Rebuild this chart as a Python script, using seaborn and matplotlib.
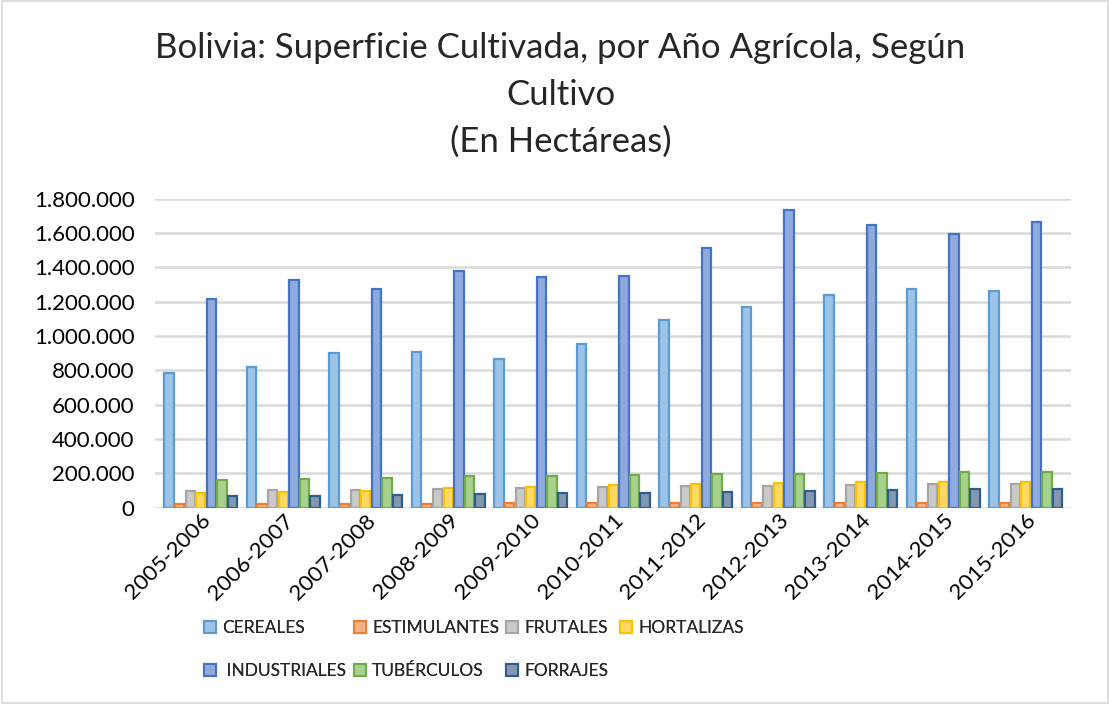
import matplotlib
matplotlib.use("Agg")
import matplotlib.pyplot as plt
import matplotlib.ticker as mticker
from matplotlib.patches import Rectangle, Patch
import seaborn as sns
import pandas as pd

periodos = ["2005-2006", "2006-2007", "2007-2008", "2008-2009", "2009-2010", "2010-2011",
            "2011-2012", "2012-2013", "2013-2014", "2014-2015", "2015-2016"]
cultivos = ["CEREALES", "ESTIMULANTES", "FRUTALES", "HORTALIZAS", "INDUSTRIALES", "TUBÉRCULOS", "FORRAJES"]

cereales = [785000, 820000, 900000, 905000, 865000, 950000, 1092000, 1168000, 1237000, 1272000, 1260000]
estimulantes = [22000, 22000, 23000, 23000, 24000, 24000, 25000, 25000, 26000, 26000, 27000]
frutales = [98000, 102000, 104000, 110000, 115000, 121000, 125000, 128000, 132000, 135000, 139000]
hortalizas = [85000, 92000, 98000, 115000, 122000, 133000, 137000, 142000, 148000, 150000, 150000]
industriales = [1216000, 1324000, 1272000, 1376000, 1341000, 1347000, 1509000, 1734000, 1647000, 1595000, 1665000]
tuberculos = [162000, 168000, 175000, 182000, 186000, 190000, 194000, 198000, 202000, 205000, 208000]
forrajes = [68000, 70000, 74000, 82000, 85000, 87000, 90000, 94000, 100000, 107000, 110000]

series = [cereales, estimulantes, frutales, hortalizas, industriales, tuberculos, forrajes]

fills = ["#9DC3E6", "#F4B183", "#C9C9C9", "#FFD966", "#8FAADC", "#A9D18E", "#8497B0"]
edges = ["#5B9BD5", "#ED7D31", "#A5A5A5", "#FFC000", "#4472C4", "#70AD47", "#2E5E8C"]

rows = []
for c, vals in zip(cultivos, series):
    for p, v in zip(periodos, vals):
        rows.append({"periodo": p, "cultivo": c, "valor": v})
df = pd.DataFrame(rows)

sns.set_theme(style="white")
plt.rcParams["font.family"] = ["Lato", "DejaVu Sans"]

fig = plt.figure(figsize=(11.10, 7.04), dpi=100)
ax = fig.add_axes([0.140, 0.279, 0.825, 0.439])

sns.barplot(data=df, x="periodo", y="valor", hue="cultivo", palette=fills,
            hue_order=cultivos, order=periodos, ax=ax, gap=0.12, width=0.9,
            linewidth=1.6, saturation=1, legend=False)

for cont, ec in zip(ax.containers, edges):
    for bar in cont:
        bar.set_edgecolor(ec)

ax.set_ylim(0, 1800000)
ax.set_yticks(range(0, 1800001, 200000))
ax.yaxis.set_major_formatter(mticker.FuncFormatter(lambda v, p: f"{int(v):,}".replace(",", ".")))
ax.grid(axis="y", color="#D9D9D9", linewidth=1.8)
ax.set_axisbelow(True)
for s in ax.spines.values():
    s.set_visible(False)
ax.set_xlabel("")
ax.set_ylabel("")
ax.tick_params(axis="y", labelsize=16, colors="#000000", pad=15, length=0)
ax.tick_params(axis="x", labelsize=16, colors="#000000", length=0, pad=2)
plt.setp(ax.get_xticklabels(), rotation=45, ha="right", rotation_mode="anchor")
ax.set_xlim(-0.55, 10.55)

handles = [Patch(facecolor=f, edgecolor=e, linewidth=1.5) for f, e in zip(fills, edges)]
columns = [[0, 4], [1, 5], [2, 6], [3]]
col_x = [204, 354, 506, 620]
for idx, x in zip(columns, col_x):
    labs = [cultivos[i] if cultivos[i] != "INDUSTRIALES" else " INDUSTRIALES" for i in idx]
    leg = fig.legend([handles[i] for i in idx], labs,
                     loc="upper left", bbox_to_anchor=(x / 1110, 1 - 620 / 704),
                     frameon=False, fontsize=12.5, handlelength=0.7, handleheight=0.7,
                     handletextpad=0.35, labelspacing=1.55, borderpad=0, borderaxespad=0)
    fig.add_artist(leg)

fig.text(0.505, 1 - 95 / 704, "Bolivia: Superficie Cultivada, por Año Agrícola, Según\nCultivo\n(En Hectáreas)",
         ha="center", va="center", fontsize=25, linespacing=1.55)

fig.patches.append(Rectangle((0.002, 0.002), 0.996, 0.996, transform=fig.transFigure,
                             fill=False, edgecolor="#D9D9D9", linewidth=1.2))

fig.savefig("out.png", dpi=100, facecolor="white")
